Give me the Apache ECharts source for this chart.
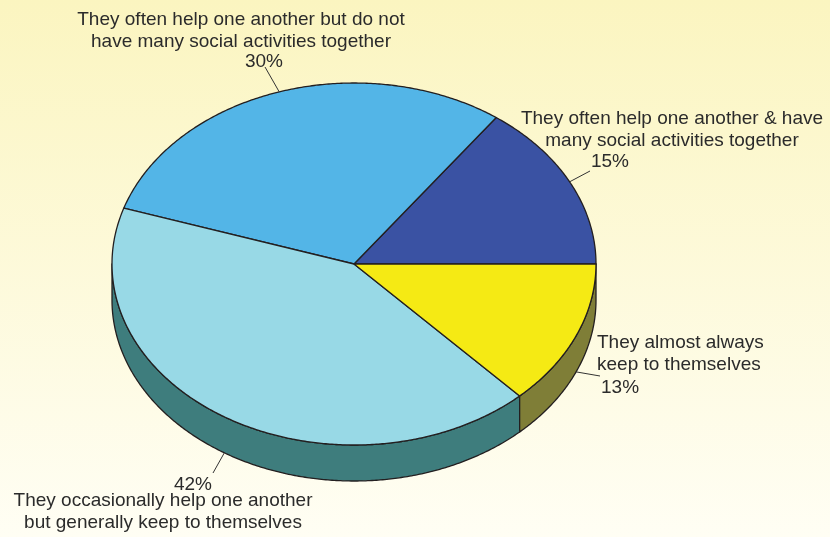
<!DOCTYPE html>
<html>
<head>
<meta charset="utf-8">
<script src="https://cdn.jsdelivr.net/npm/echarts@6/dist/echarts.min.js"></script>
<style>
  html, body { margin: 0; padding: 0; }
  #chart { width: 830px; height: 537px; }
</style>
</head>
<body>
<div id="chart"></div>
<script>
// Survey answers, drawn counter-clockwise from the 3 o'clock position
const categories = [
  'They often help one another & have\nmany social activities together',
  'They often help one another but do not\nhave many social activities together',
  'They occasionally help one another\nbut generally keep to themselves',
  'They almost always\nkeep to themselves'
];
const values = [15, 30, 42, 13];

// Face and wall colours for each slice
const topColors = ['#3a52a3', '#53b5e7', '#98d9e6', '#f5ea14'];
const sideColors = ['#2a3c78', '#3a86ad', '#3e7d7d', '#7f7e37'];

// Label placement: name block, percent text and leader end point
const labelLayout = [
  { nameX: 672, nameY: 108, align: 'center', pctX: 610, pctY: 162, pctAlign: 'center', lineTo: [590, 171] },
  { nameX: 241, nameY: 9, align: 'center', pctX: 264, pctY: 62, pctAlign: 'center', lineTo: [265, 67] },
  { nameX: 163, nameY: 490, align: 'center', pctX: 193, pctY: 485, pctAlign: 'center', lineTo: [213, 473] },
  { nameX: 597, nameY: 332, align: 'left', pctX: 601, pctY: 388, pctAlign: 'left', lineTo: [600, 376] }
];

const pieGeom = { cx: 354, cy: 264, rx: 242, ry: 181, depth: 36 };
const edge = '#231f20';
const textColor = '#2b2b2b';
const font = 'Liberation Sans, Arial, Helvetica, sans-serif';
const fontSize = 19;

const total = values.reduce((a, b) => a + b, 0);
const startAngles = [];
{
  let acc = 0;
  values.forEach(v => { startAngles.push(acc / total * 360); acc += v; });
}

function pt(deg, dy) {
  const r = deg * Math.PI / 180;
  return [pieGeom.cx + pieGeom.rx * Math.cos(r), pieGeom.cy - pieGeom.ry * Math.sin(r) + (dy || 0)];
}

function arc(a1, a2, dy) {
  const pts = [];
  const n = Math.max(2, Math.ceil(Math.abs(a2 - a1) / 0.5));
  for (let i = 0; i <= n; i++) pts.push(pt(a1 + (a2 - a1) * i / n, dy));
  return pts;
}

function renderItem(params, api) {
  const i = params.dataIndex;
  const v = api.value(0);
  const a1 = startAngles[i];
  const a2 = a1 + v / total * 360;
  const children = [];

  // Front wall (visible where the rim faces the viewer: 180..360 degrees)
  const s1 = Math.max(a1, 180), s2 = Math.min(a2, 360);
  if (s2 > s1) {
    const topArc = arc(s1, s2, 0);
    const botArc = arc(s2, s1, pieGeom.depth);
    children.push({
      type: 'polygon', z2: 1,
      shape: { points: topArc.concat(botArc) },
      style: { fill: sideColors[i], stroke: edge, lineWidth: 1.3, lineJoin: 'round' }
    });
  }

  // Top face
  children.push({
    type: 'polygon', z2: 2,
    shape: { points: [[pieGeom.cx, pieGeom.cy]].concat(arc(a1, a2, 0)) },
    style: { fill: topColors[i], stroke: edge, lineWidth: 1.3, lineJoin: 'round' }
  });

  // Leader line from the middle of the rim
  const mid = (a1 + a2) / 2;
  const front = mid > 180 && mid < 360;
  const p0 = pt(mid, front ? pieGeom.depth : 0);
  const L = labelLayout[i];
  children.push({
    type: 'line', z2: 3,
    shape: { x1: p0[0], y1: p0[1], x2: L.lineTo[0], y2: L.lineTo[1] },
    style: { stroke: '#333', lineWidth: 1 }
  });

  children.push({
    type: 'text', z2: 4,
    style: {
      x: L.nameX, y: L.nameY, text: categories[i],
      align: L.align, verticalAlign: 'top', lineHeight: 22,
      fill: textColor, font: fontSize + 'px ' + font
    }
  });
  children.push({
    type: 'text', z2: 4,
    style: {
      x: L.pctX, y: L.pctY, text: Math.round(v / total * 100) + '%',
      align: L.pctAlign, verticalAlign: 'middle',
      fill: textColor, font: fontSize + 'px ' + font
    }
  });

  return { type: 'group', children: children };
}

const chart = echarts.init(document.getElementById('chart'), null, { renderer: 'canvas' });
chart.setOption({
  animation: false,
  backgroundColor: {
    type: 'linear', x: 0, y: 0, x2: 0, y2: 1,
    colorStops: [
      { offset: 0, color: '#fbf5c0' },
      { offset: 1, color: '#fffef4' }
    ]
  },
  series: [{
    type: 'custom',
    coordinateSystem: 'none',
    silent: true,
    data: values.map((v, i) => ({ name: categories[i], value: [v] })),
    renderItem: renderItem
  }]
});
</script>
</body>
</html>
